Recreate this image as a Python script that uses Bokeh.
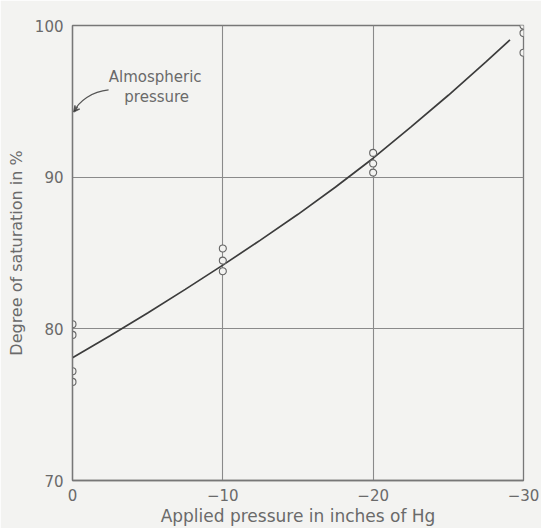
from bokeh.plotting import figure
from bokeh.models import Range1d, FixedTicker, Arrow, VeeHead
from bokeh.core.properties import value
from bokeh.embed import file_html
from bokeh.resources import INLINE

# measured points (open circles)
pt_x = [0, 0, 0, 0, -10, -10, -10, -20, -20, -20, -30, -30, -30]
pt_y = [80.3, 79.6, 77.2, 76.5, 85.3, 84.5, 83.8, 91.6, 90.9, 90.3, 100.0, 99.5, 98.2]

# fitted curve
curve_x = [0, -2.5, -5, -7.5, -10, -12.5, -15, -17.5, -20, -22.5, -25, -27.5, -29.1]
curve_y = [78.1, 79.55, 81.05, 82.6, 84.2, 85.85, 87.55, 89.35, 91.25, 93.3, 95.4, 97.6, 99.05]

x_ticks = [0, -10, -20, -30]
x_tick_labels = ["0", "\u221210", "\u221220", "\u221230"]
y_ticks = [70, 80, 90, 100]

BG = "#f3f3f1"
FONT = "DejaVu Sans"
TXT = "#6a6a6a"

p = figure(width=541, height=528, output_backend="svg", toolbar_location=None,
           x_range=Range1d(0, -30), y_range=Range1d(70, 100))
p.min_border_left = 72
p.min_border_right = 18
p.min_border_top = 25
p.min_border_bottom = 47
p.background_fill_color = BG
p.border_fill_color = BG
p.outline_line_color = "#777777"
p.outline_line_width = 1.3

p.xaxis.ticker = FixedTicker(ticks=x_ticks)
p.xaxis.major_label_overrides = {t: l for t, l in zip(x_ticks, x_tick_labels)}
p.yaxis.ticker = FixedTicker(ticks=y_ticks)
for ax in (p.xaxis, p.yaxis):
    ax.axis_line_color = "#777777"
    ax.axis_line_width = 1.3
    ax.major_tick_line_color = None
    ax.major_tick_out = 0
    ax.major_tick_in = 0
    ax.minor_tick_line_color = None
    ax.minor_tick_out = 0
    ax.minor_tick_in = 0
    ax.major_label_text_font = FONT
    ax.major_label_text_font_size = "15px"
    ax.major_label_text_color = TXT
    ax.axis_label_text_font = FONT
    ax.axis_label_text_font_style = "normal"
    ax.axis_label_text_color = TXT
p.xaxis.axis_label_text_font_size = "17px"
p.yaxis.axis_label_text_font_size = "16px"
p.xaxis.major_label_standoff = 8
p.xaxis.axis_label_standoff = 2
p.yaxis.major_label_standoff = 9
p.yaxis.axis_label_standoff = 6
p.xaxis.axis_label = "Applied pressure in inches of Hg"
p.yaxis.axis_label = "Degree of saturation in %"

p.xgrid.ticker = FixedTicker(ticks=x_ticks)
p.ygrid.ticker = FixedTicker(ticks=y_ticks)
p.grid.grid_line_color = "#8a8a8a"
p.grid.grid_line_width = 1.1

p.line(curve_x, curve_y, line_color="#3c3c3c", line_width=1.7)
p.scatter(pt_x, pt_y, marker="circle", size=7, fill_color=BG,
          line_color="#666666", line_width=1.1)

p.text(x=[-5.5, -5.6], y=[96.6, 95.3], text=["Almospheric", "pressure"],
       text_font=value(FONT), text_font_size="15px", text_color=TXT,
       text_align="center", text_baseline="middle")
p.bezier(x0=[-2.4], y0=[95.75], x1=[-0.1], y1=[94.3],
         cx0=[-1.3], cy0=[95.65], cx1=[-0.4], cy1=[95.0],
         line_color="#555555", line_width=1.2)
p.add_layout(Arrow(end=VeeHead(size=6, line_color="#555555", line_width=1.2),
                   x_start=-0.35, y_start=94.65, x_end=-0.08, y_end=94.3,
                   line_color="#555555", line_width=1.2))

open("out.html", "w").write(file_html(p, INLINE))
